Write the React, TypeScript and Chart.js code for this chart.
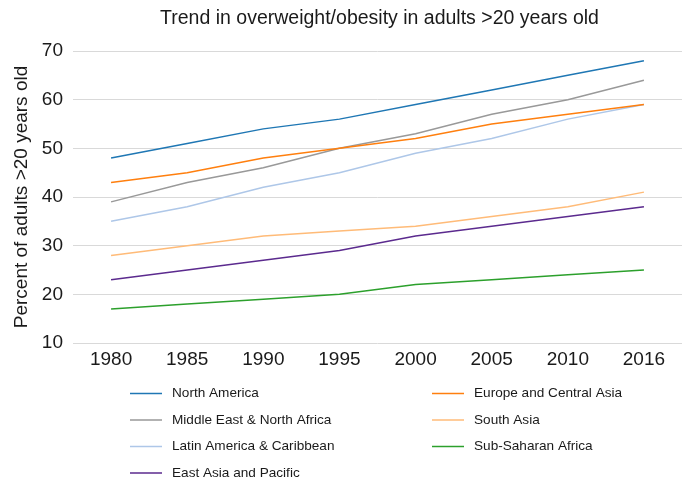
import React, { useEffect, useRef } from 'react';
import { Chart, registerables } from 'chart.js';

Chart.register(...registerables);

const chartTitle = 'Trend in overweight/obesity in adults >20 years old';
const yAxisTitle = 'Percent of adults >20 years old';
const years = ['1980', '1985', '1990', '1995', '2000', '2005', '2010', '2016'];

const northAmerica = [48, 51, 54, 56, 59, 62, 65, 68];
const europeCentralAsia = [43, 45, 48, 50, 52, 55, 57, 59];
const middleEastNorthAfrica = [39, 43, 46, 50, 53, 57, 60, 64];
const southAsia = [28, 30, 32, 33, 34, 36, 38, 41];
const latinAmericaCaribbean = [35, 38, 42, 45, 49, 52, 56, 59];
const subSaharanAfrica = [17, 18, 19, 20, 22, 23, 24, 25];
const eastAsiaPacific = [23, 25, 27, 29, 32, 34, 36, 38];

const seriesNames = [
  'North America',
  'Europe and Central Asia',
  'Middle East & North Africa',
  'South Asia',
  'Latin America & Caribbean',
  'Sub-Saharan Africa',
  'East Asia and Pacific',
];
const seriesValues = [
  northAmerica,
  europeCentralAsia,
  middleEastNorthAfrica,
  southAsia,
  latinAmericaCaribbean,
  subSaharanAfrica,
  eastAsiaPacific,
];
const seriesColors = ['#1f77b4', '#ff7f0e', '#999999', '#ffbb78', '#aec7e8', '#2ca02c', '#5b2a8e'];

const FONT = '"Liberation Sans", Arial, sans-serif';
const TEXT = '#1a1a1a';

const customDraw = {
  id: 'customDraw',
  afterDraw(chart: any) {
    const ctx = chart.ctx as CanvasRenderingContext2D;
    const area = chart.chartArea;
    ctx.save();
    // title
    ctx.fillStyle = TEXT;
    ctx.font = `19.5px ${FONT}`;
    ctx.textAlign = 'center';
    ctx.textBaseline = 'middle';
    ctx.fillText(chartTitle, (area.left + area.right) / 2 + 2, 19);
    // legend
    ctx.font = `13.6px ${FONT}`;
    ctx.textAlign = 'left';
    chart.data.datasets.forEach((ds: any, i: number) => {
      const col = i % 2;
      const row = Math.floor(i / 2);
      const x = col === 0 ? 130 : 432;
      const y = 393.5 + row * 26.5;
      ctx.strokeStyle = ds.borderColor;
      ctx.lineWidth = 1.5;
      ctx.beginPath();
      ctx.moveTo(x, y);
      ctx.lineTo(x + 32, y);
      ctx.stroke();
      ctx.fillStyle = TEXT;
      ctx.fillText(ds.label, x + 42, y);
    });
    ctx.restore();
  },
};

export default function App() {
  const canvasRef = useRef<HTMLCanvasElement | null>(null);

  useEffect(() => {
    if (!canvasRef.current) return;
    const chart = new Chart(canvasRef.current, {
      type: 'line',
      data: {
        labels: years,
        datasets: seriesNames.map((name, i) => ({
          label: name,
          data: seriesValues[i],
          borderColor: seriesColors[i],
          backgroundColor: seriesColors[i],
          borderWidth: 1.5,
          pointRadius: 0,
          tension: 0,
          fill: false,
        })),
      },
      options: {
        responsive: false,
        animation: false,
        devicePixelRatio: 1,
        layout: { padding: { top: 51, right: 10, bottom: 114, left: 0 } },
        plugins: {
          legend: { display: false },
          title: { display: false },
          tooltip: { enabled: false },
        },
        scales: {
          x: {
            offset: true,
            afterFit: (scale: any) => {
              scale.height = 30;
            },
            grid: { display: false, drawTicks: false },
            border: { display: false },
            ticks: { color: TEXT, font: { family: FONT, size: 19 }, padding: 5, maxRotation: 0, autoSkip: false },
          },
          y: {
            min: 10,
            max: 70,
            afterFit: (scale: any) => {
              scale.width = 73;
            },
            grid: { color: '#d9d9d9', lineWidth: 1, drawTicks: false },
            border: { display: false },
            ticks: { stepSize: 10, color: TEXT, font: { family: FONT, size: 19 }, padding: 10 },
            title: {
              display: true,
              text: yAxisTitle,
              color: TEXT,
              font: { family: FONT, size: 19 },
              padding: { top: 10, bottom: 0 },
            },
          },
        },
      },
      plugins: [customDraw],
    });
    return () => chart.destroy();
  }, []);

  return (
    <div style={{ position: 'absolute', left: 0, top: 0, width: 692, height: 487, background: '#fff' }}>
      <canvas ref={canvasRef} width={692} height={487} style={{ display: 'block' }} />
    </div>
  );
}
